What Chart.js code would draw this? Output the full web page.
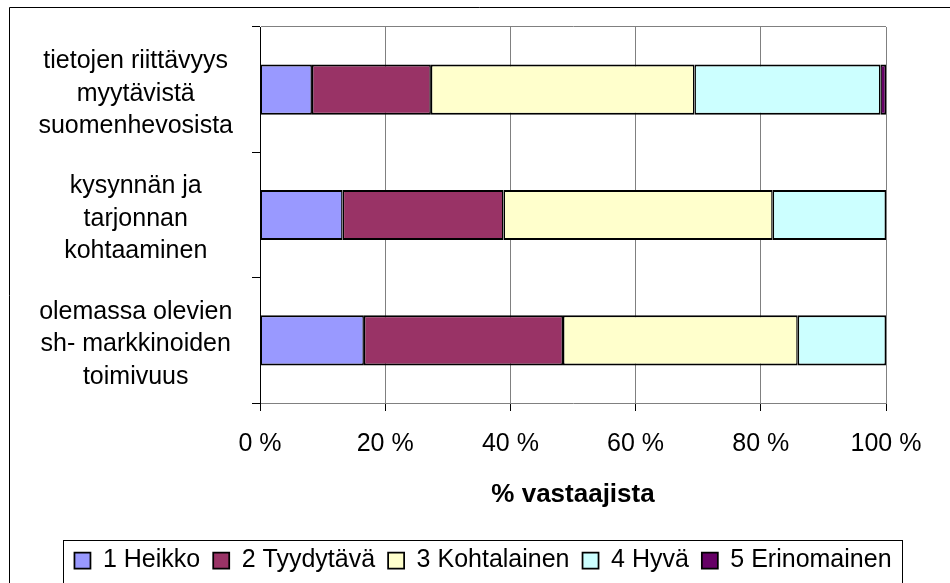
<!DOCTYPE html>
<html>
<head>
<meta charset="utf-8">
<script src="https://cdn.jsdelivr.net/npm/chart.js@4"></script>
<style>
  html, body { margin: 0; padding: 0; background: #fff; }
  #wrap { width: 950px; height: 583px; position: relative; }
</style>
</head>
<body>
<div id="wrap"><canvas id="ratingChart"></canvas></div>
<script>
const categories = [
  ['tietojen riittävyys', 'myytävistä', 'suomenhevosista'],
  ['kysynnän ja', 'tarjonnan', 'kohtaaminen'],
  ['olemassa olevien', 'sh- markkinoiden', 'toimivuus']
];
const seriesNames = ['1 Heikko', '2 Tyydytävä', '3 Kohtalainen', '4 Hyvä', '5 Erinomainen'];
const heikko = [8.3, 13.2, 16.6];
const tyydyttava = [19.0, 25.7, 31.8];
const kohtalainen = [42.1, 43.0, 37.5];
const hyva = [29.7, 18.1, 14.1];
const erinomainen = [0.9, 0, 0];
const xTicks = [0, 20, 40, 60, 80, 100];
const colors = ['#9999ff', '#993366', '#ffffcc', '#ccffff', '#660066'];

Chart.defaults.font.family = '"Liberation Sans", Arial, sans-serif';
Chart.defaults.color = '#000';

// outer frame, legend nudged right, box around the legend
const framePlugin = {
  id: 'frame',
  afterLayout(chart) {
    chart.legend.left += 22;
    chart.legend.right += 22;
  },
  beforeDraw(chart) {
    const c = chart.ctx;
    c.save();
    c.fillStyle = '#fff';
    c.fillRect(0, 0, chart.width, chart.height);
    c.strokeStyle = '#000';
    c.lineWidth = 1;
    c.beginPath();
    c.moveTo(9.5, chart.height);
    c.lineTo(9.5, 7.5);
    c.lineTo(chart.width, 7.5);
    c.stroke();
    c.restore();
  },
  afterDraw(chart) {
    const boxes = chart.legend.legendHitBoxes;
    if (!boxes || !boxes.length) return;
    const c = chart.ctx;
    const left = Math.min(...boxes.map(b => b.left)) - 11;
    const right = Math.max(...boxes.map(b => b.left + b.width)) + 11;
    const top = boxes[0].top - 8;
    const bottom = boxes[0].top + boxes[0].height + 10;
    c.save();
    c.strokeStyle = '#000';
    c.lineWidth = 1;
    c.strokeRect(Math.round(left) + 0.5, Math.round(top) + 0.5, Math.round(right - left), Math.round(bottom - top));
    c.restore();
  }
};

const values = [heikko, tyydyttava, kohtalainen, hyva, erinomainen];

new Chart(document.getElementById('ratingChart'), {
  type: 'bar',
  data: {
    labels: categories,
    datasets: seriesNames.map((name, i) => ({
      label: name,
      data: values[i],
      backgroundColor: colors[i],
      borderColor: '#000',
      borderWidth: { top: 2, bottom: 2, left: 1.5, right: 1.5 },
      borderSkipped: false,
      barPercentage: 0.4,
      categoryPercentage: 1
    }))
  },
  options: {
    indexAxis: 'y',
    responsive: true,
    maintainAspectRatio: false,
    animation: false,
    layout: { padding: { top: 27, left: 36, right: 64, bottom: 0 } },
    plugins: {
      legend: {
        position: 'bottom',
        labels: { color: '#000', font: { size: 25 }, boxWidth: 16, boxHeight: 16, padding: 13 }
      },
      tooltip: { enabled: false }
    },
    scales: {
      x: {
        stacked: true,
        min: 0,
        max: 100,
        afterBuildTicks: s => { s.ticks = xTicks.map(v => ({ value: v })); },
        border: { color: '#808080' },
        grid: { color: '#808080', tickColor: '#000', tickLength: 8 },
        ticks: { padding: 18, color: '#000', font: { size: 25 }, callback: v => v + ' %' },
        title: {
          display: true,
          text: '% vastaajista',
          color: '#000',
          font: { size: 26, weight: 'bold' },
          padding: { top: 2.4, bottom: 24.4 }
        }
      },
      y: {
        stacked: true,
        afterFit: s => {
          s.width = 224;
          s.paddingTop = 0;
          s.paddingBottom = 0;
        },
        border: { color: '#000' },
        grid: {
          offset: true,
          color: c => c.index === 0 ? '#808080' : 'rgba(0,0,0,0)',
          tickColor: '#000',
          tickLength: 8
        },
        ticks: { crossAlign: 'center', padding: 19, labelOffset: 4, color: '#000', font: { size: 25, lineHeight: 1.3 } }
      }
    }
  },
  plugins: [framePlugin]
});
</script>
</body>
</html>
